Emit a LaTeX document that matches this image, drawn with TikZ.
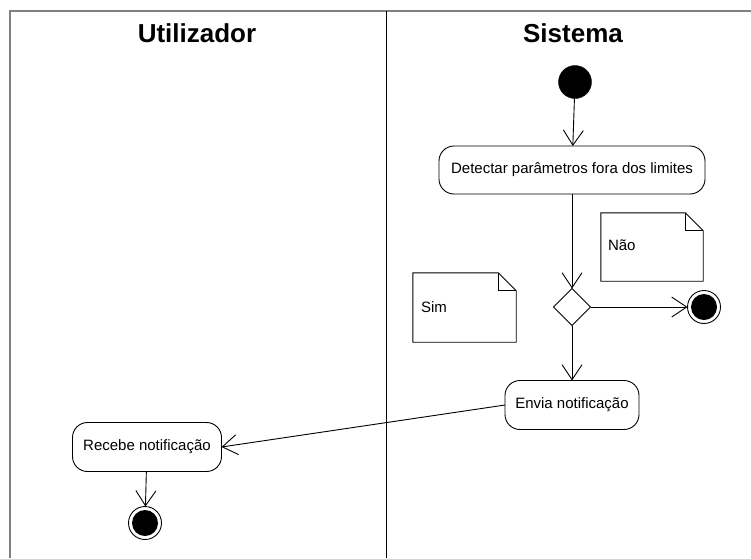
\documentclass[tikz,border=0pt]{standalone}
\usepackage{fontspec}
\setsansfont{Liberation Sans}
\usepackage{tkz-graph}
\usetikzlibrary{arrows.meta}
\usetikzlibrary{shapes}

\begin{document}
\begin{tikzpicture}[x = 1pt, y = -1pt, font=\sffamily]
	\tikzstyle{VertexStyle} = []
	\tikzstyle{EdgeStyle} = [line width = 0.9pt, -{Straight Barb[length = 15pt, width = 20pt, line width = 0.9pt]}]
	\tikzstyle{actionStyle} = [shape = rectangle, rounded corners = 15pt, draw, line width = 0.9pt, inner sep = 0pt, font = \sffamily\fontsize{15}{18}\selectfont]
	\tikzstyle{startStyle} = [shape = circle, minimum size = 33pt, inner sep = 0pt, draw, fill]
	\tikzstyle{endStyle} = [shape = circle, minimum size = 33pt, inner sep = 0pt, draw, line width = 0.9pt, path picture = {\fill (path picture bounding box.center) circle (13pt);}]
	\tikzstyle{decisionStyle} = [shape = diamond, minimum size = 37pt, aspect = 1, inner sep = 0pt, draw, line width = 0.9pt]
	\tikzstyle{noteStyle} = [shape = rectangle, inner sep = 0pt]
	\tikzstyle{noteLine} = [line width = 0.9pt]
	\tikzstyle{noteText} = [anchor = west, inner sep = 0pt, font = \sffamily\fontsize{15}{18}\selectfont]
	\tikzstyle{laneTitle} = [font = \sffamily\bfseries\fontsize{26}{30}\selectfont]
	\useasboundingbox (0,0) rectangle (751,558);
	% swimlanes
	\draw[line width = 2.5pt, color = gray] (10,558) -- (10,11) -- (751,11);
	\draw[line width = 1pt] (386,11) -- (386,558);
	\node[laneTitle] (user) at (197,33) {Utilizador};
	\node[laneTitle] (system) at (573,33) {Sistema};
	% activities
	\Vertex[style = startStyle, x = 575, y = 82, NoLabel]{start}
	\Vertex[style = {actionStyle, minimum width = 266pt, minimum height = 48pt}, x = 572, y = 170, L = {Detectar parâmetros fora dos limites}]{detect}
	\Vertex[style = decisionStyle, x = 572, y = 307, NoLabel]{decide}
	\Vertex[style = endStyle, x = 704, y = 307, NoLabel]{stopA}
	\Vertex[style = {actionStyle, minimum width = 134pt, minimum height = 49pt}, x = 572, y = 405, L = {Envia notificação}]{send}
	\Vertex[style = {actionStyle, minimum width = 149pt, minimum height = 49pt}, x = 147, y = 447, L = {Recebe notificação}]{receive}
	\Vertex[style = endStyle, x = 145, y = 523, NoLabel]{stopB}
	% notes
	\node[noteStyle, minimum width = 103pt, minimum height = 69pt] (simNote) at (464.5,307.5) {};
	\draw[noteLine] (simNote.north west) -- ([xshift = -18pt]simNote.north east) -- ([yshift = -18pt]simNote.north east) -- (simNote.south east) -- (simNote.south west) -- cycle;
	\draw[noteLine] ([xshift = -18pt]simNote.north east) |- ([yshift = -18pt]simNote.north east);
	\node[noteText] (simText) at ([xshift = 8pt]simNote.west) {Sim};
	\node[noteStyle, minimum width = 102pt, minimum height = 68pt] (naoNote) at (652,247) {};
	\draw[noteLine] (naoNote.north west) -- ([xshift = -18pt]naoNote.north east) -- ([yshift = -18pt]naoNote.north east) -- (naoNote.south east) -- (naoNote.south west) -- cycle;
	\draw[noteLine] ([xshift = -18pt]naoNote.north east) |- ([yshift = -18pt]naoNote.north east);
	\node[noteText] (naoText) at ([xshift = 7pt, yshift = 2pt]naoNote.west) {Não};
	% flows
	\Edge(start)(detect)
	\Edge(detect)(decide)
	\Edge(decide)(stopA)
	\Edge(decide)(send)
	\Edge(send.west)(receive.east)
	\Edge(receive)(stopB)
\end{tikzpicture}
\end{document}
